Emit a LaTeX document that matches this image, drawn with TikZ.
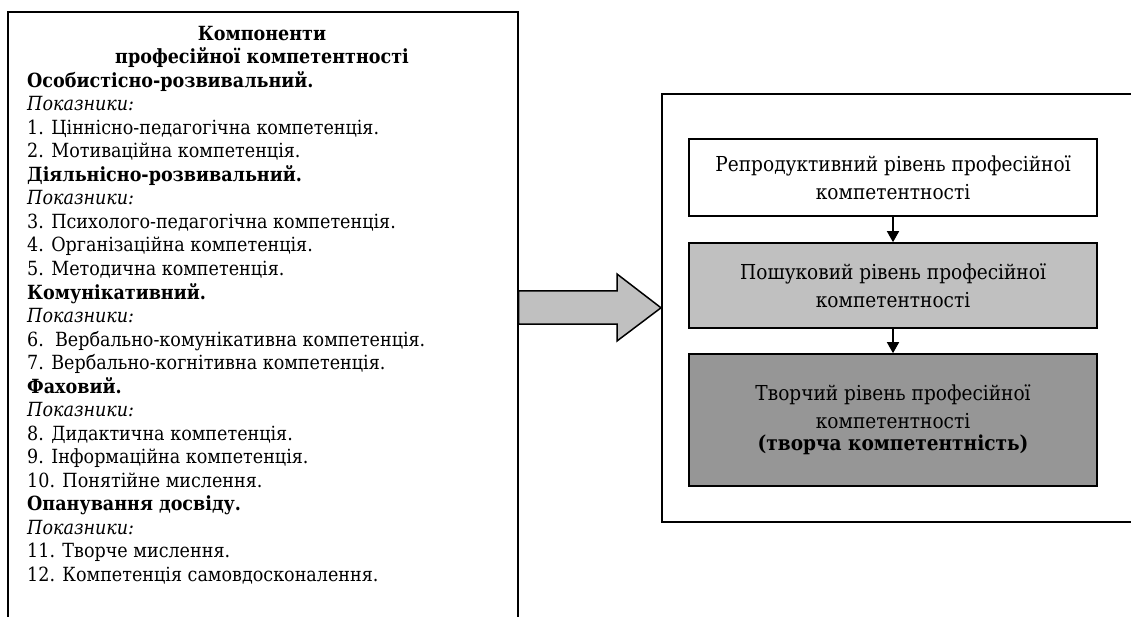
\documentclass[tikz,border=0pt]{standalone}
\usepackage{fontspec}
\setmainfont{DejaVu Serif Condensed}
\usetikzlibrary{arrows.meta}
\definecolor{lightfill}{HTML}{C0C0C0}
\definecolor{darkfill}{HTML}{969696}
\newcommand{\lfont}{\fontsize{19.5}{23.5}\selectfont}
\newcommand{\rfont}{\fontsize{20.6}{28}\selectfont}
\tikzset{
  ltxt/.style={anchor=base west, inner sep=0pt, font=\lfont},
  lhead/.style={anchor=base west, inner sep=0pt, font=\lfont\bfseries},
  lital/.style={anchor=base west, inner sep=0pt, font=\lfont\itshape},
  ttl/.style={anchor=base, inner sep=0pt, font=\lfont\bfseries},
  frame/.style={draw, line width=1.6pt},
  level/.style={draw, line width=1.6pt, minimum width=408pt, align=center, inner sep=0pt, font=\rfont},
  flow/.style={line width=1.5pt, -{Triangle[width=12pt,length=11pt]}}
}
\begin{document}
\begin{tikzpicture}[x=1pt,y=-1pt]
\useasboundingbox (0,0) rectangle (1131,617);
\clip (0,0) rectangle (1131,617);
% left frame
\node[frame, anchor=north west, minimum width=510pt, minimum height=640pt, inner sep=0pt] (lbox) at (7,11) {};
\node[ttl] (t1) at (262,40.5) {Компоненти};
\node[ttl] (t2) at (262,64) {професійної компетентності};
\node[lhead] (l1)  at (27,87.5)  {Особистісно-розвивальний.};
\node[lital] (l2)  at (27,111)   {Показники:};
\node[ltxt]  (l3)  at (27,134.5) {1. Ціннісно-педагогічна компетенція.};
\node[ltxt]  (l4)  at (27,158)   {2. Мотиваційна компетенція.};
\node[lhead] (l5)  at (27,181.5) {Діяльнісно-розвивальний.};
\node[lital] (l6)  at (27,205)   {Показники:};
\node[ltxt]  (l7)  at (27,228.5) {3. Психолого-педагогічна компетенція.};
\node[ltxt]  (l8)  at (27,252)   {4. Організаційна компетенція.};
\node[ltxt]  (l9)  at (27,275.5) {5. Методична компетенція.};
\node[lhead] (l10) at (27,299)   {Комунікативний.};
\node[lital] (l11) at (27,322.5) {Показники:};
\node[ltxt]  (l12) at (27,346)   {6.\ \ Вербально-комунікативна компетенція.};
\node[ltxt]  (l13) at (27,369.5) {7. Вербально-когнітивна компетенція.};
\node[lhead] (l14) at (27,393)   {Фаховий.};
\node[lital] (l15) at (27,416.5) {Показники:};
\node[ltxt]  (l16) at (27,440)   {8. Дидактична компетенція.};
\node[ltxt]  (l17) at (27,463.5) {9. Інформаційна компетенція.};
\node[ltxt]  (l18) at (27,487)   {10. Понятійне мислення.};
\node[lhead] (l19) at (27,510.5) {Опанування досвіду.};
\node[lital] (l20) at (27,534)   {Показники:};
\node[ltxt]  (l21) at (27,557.5) {11. Творче мислення.};
\node[ltxt]  (l22) at (27,581)   {12. Компетенція самовдосконалення.};
% right frame
\node[frame, anchor=north west, minimum width=490pt, minimum height=428pt, inner sep=0pt] (outer) at (661,93) {};
\node[level, minimum height=77pt] (w) at (893,177.5) {Репродуктивний рівень професійної\\компетентності};
\node[level, minimum height=85pt, fill=lightfill] (g) at (893,285.5) {Пошуковий рівень професійної\\компетентності};
\node[level, minimum height=132pt, fill=darkfill] (d) at (893,420) {Творчий рівень професійної\\компетентності\\[-6pt]\textbf{(творча компетентність)}};
\draw[flow] (w.south) -- (g.north);
\draw[flow] (g.south) -- (d.north);
% big arrow
\coordinate (tip) at (outer.west);
\draw[line width=1.5pt, fill=lightfill, line join=miter]
  (lbox.north east |- 0,291) -- (617,291) -- (617,274) -- (tip) -- (617,341) -- (617,324) -- (lbox.north east |- 0,324) -- cycle;
\end{tikzpicture}
\end{document}
